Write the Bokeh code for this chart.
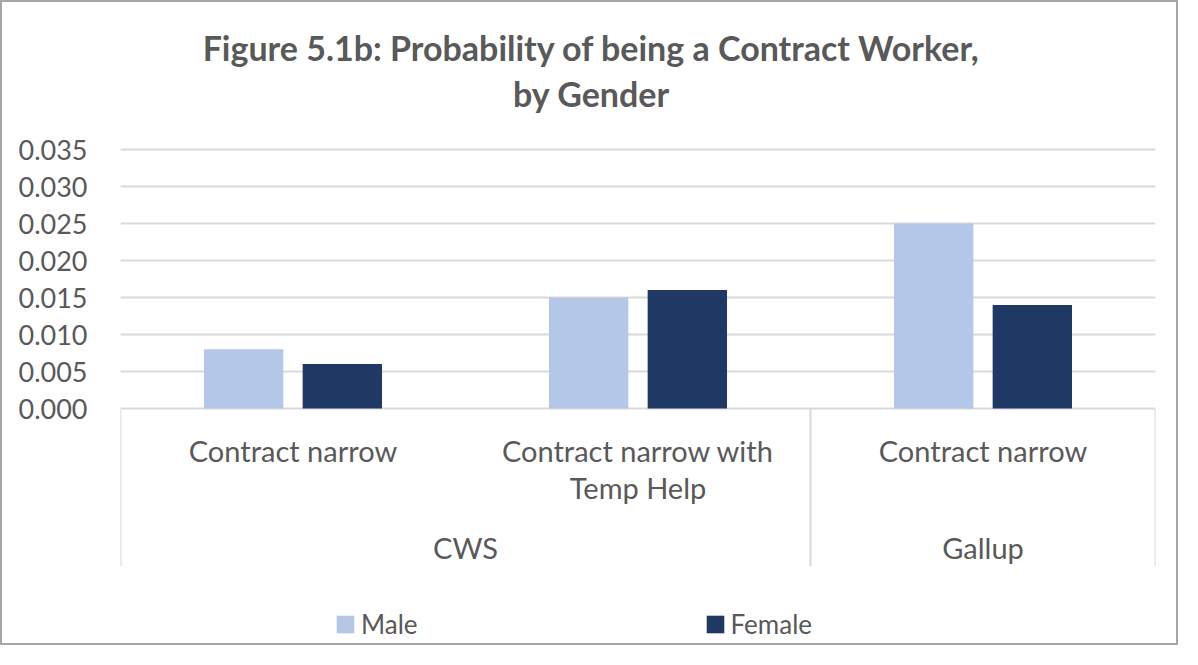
from bokeh.plotting import figure
from bokeh.models import Range1d, FixedTicker, PrintfTickFormatter, Legend, LegendItem
from bokeh.embed import file_html
from bokeh.resources import INLINE
from bokeh.core.properties import value

# ---- data ----
groups = ["CWS", "CWS", "Gallup"]
categories = ["Contract narrow", "Contract narrow with\nTemp Help", "Contract narrow"]
male = [0.008, 0.015, 0.025]
female = [0.006, 0.016, 0.014]
y_ticks = [0.000, 0.005, 0.010, 0.015, 0.020, 0.025, 0.030, 0.035]
series = ["Male", "Female"]
title_lines = ["Figure 5.1b: Probability of being a Contract Worker,", "by Gender"]

# ---- style / layout ----
colors = ["#B4C7E7", "#203864"]
text_color = "#595959"
grid_color = "#D9D9D9"
font = "Lato"

W, H = 1178, 645             # plus a 2px CSS border on each side
left_px, right_px = 118, 25
k = 0.035 / 259.0            # data units per pixel on the y axis
zero_px = 406                # pixel row of y = 0 (from the top)
y_top = zero_px * k          # frame spans the full height of the figure
y_bottom = -(H - zero_px) * k
sep_bottom = -158 * k        # end of the category separators

p = figure(width=W, height=H, output_backend="svg", toolbar_location=None,
           x_range=Range1d(0, len(categories)), y_range=Range1d(y_bottom, y_top),
           min_border_left=left_px, min_border_right=right_px, min_border_top=0,
           min_border_bottom=0)
p.styles = {"border": "2px solid #A6A6A6"}
p.outline_line_color = None
p.background_fill_color = "white"
p.border_fill_color = "white"

# axes
p.xaxis.visible = False
yax = p.yaxis[0]
yax.ticker = FixedTicker(ticks=y_ticks)
yax.formatter = PrintfTickFormatter(format="%.3f")
yax.axis_line_color = None
yax.major_tick_line_color = None
yax.minor_tick_line_color = None
yax.major_label_standoff = 27
yax.major_label_text_font = font
yax.major_label_text_font_size = "27px"
yax.major_label_text_color = text_color

p.xgrid.visible = False
p.ygrid.ticker = FixedTicker(ticks=y_ticks)
p.ygrid.grid_line_color = grid_color
p.ygrid.grid_line_width = 2

# bars
xc = [i + 0.5 for i in range(len(categories))]
off = 0.143
bw = 0.23
r_m = p.vbar(x=[x - off for x in xc], top=male, bottom=0, width=bw,
             fill_color=colors[0], line_color=None)
r_f = p.vbar(x=[x + off for x in xc], top=female, bottom=0, width=bw,
             fill_color=colors[1], line_color=None)

# category labels
p.text(x=xc, y=[-0.0033] * len(xc), text=categories, text_align="center",
       text_baseline="top", text_font=value(font), text_font_size="29px",
       text_color=text_color, text_line_height=1.05)

# group runs
runs = []
start = 0
for i in range(1, len(groups) + 1):
    if i == len(groups) or groups[i] != groups[start]:
        runs.append((groups[start], start, i))
        start = i
p.text(x=[(a + b) / 2 for _, a, b in runs], y=[-0.0188] * len(runs),
       text=[g for g, _, _ in runs], text_align="center", text_baseline="middle",
       text_font=value(font), text_font_size="29px", text_color=text_color)

bounds = sorted(set([a for _, a, _ in runs] + [b for _, _, b in runs]))
p.segment(x0=bounds, x1=bounds, y0=[0] * len(bounds), y1=[sep_bottom] * len(bounds),
          line_color=grid_color, line_width=2)

# title, centred on the whole chart
title_x = (W / 2 - left_px) / (W - left_px - right_px) * len(categories)
p.text(x=[title_x] * 2, y=[(zero_px - 45) * k, (zero_px - 91) * k], text=title_lines,
       text_align="center", text_baseline="middle", text_font=value(font),
       text_font_size="34px", text_font_style="bold", text_color=text_color)

# legend inside the (extended) frame, at the bottom
legend = Legend(items=[LegendItem(label=series[0], renderers=[r_m]),
                       LegendItem(label=series[1], renderers=[r_f])],
                orientation="horizontal", location=(214, 7),
                label_text_font=font, label_text_font_size="26px",
                label_text_color=text_color, glyph_width=22, glyph_height=22,
                spacing=286, label_standoff=5, border_line_color=None,
                background_fill_alpha=0, padding=0, margin=0)
p.add_layout(legend)

open("out.html", "w").write(file_html(p, INLINE))
